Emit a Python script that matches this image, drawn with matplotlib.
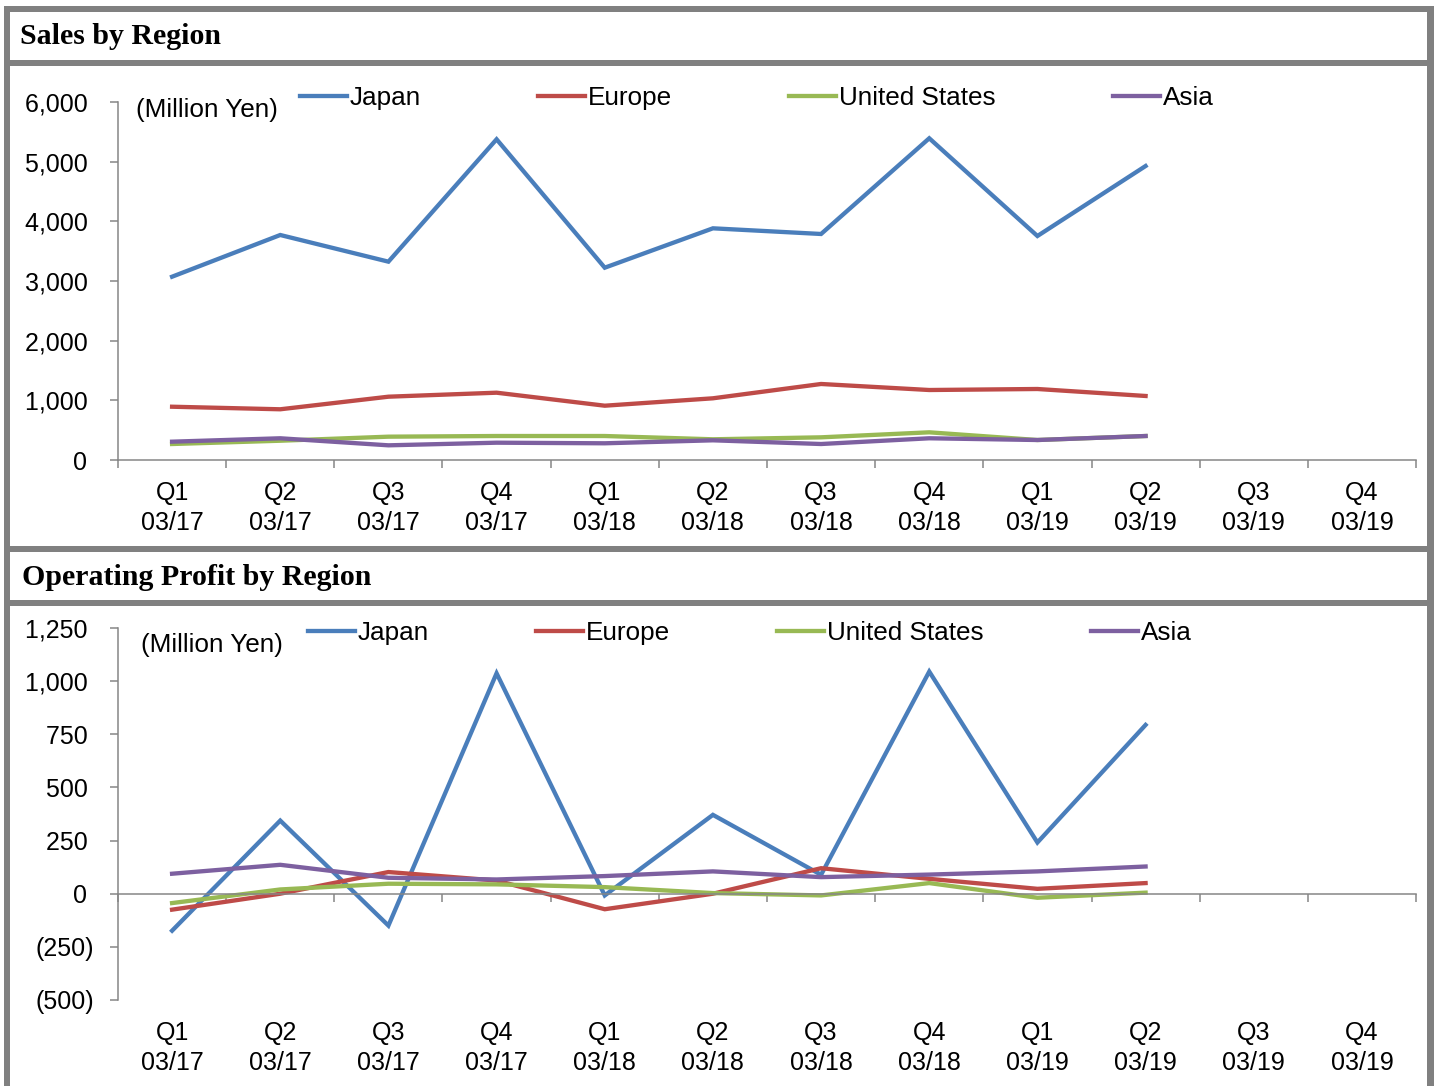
import numpy as np
import matplotlib
matplotlib.use("Agg")
import matplotlib.pyplot as plt
from matplotlib.patches import Rectangle
from matplotlib.ticker import MultipleLocator, FuncFormatter

# quarter labels (fiscal years ending March)
quarters = ["Q1\n03/17", "Q2\n03/17", "Q3\n03/17", "Q4\n03/17",
            "Q1\n03/18", "Q2\n03/18", "Q3\n03/18", "Q4\n03/18",
            "Q1\n03/19", "Q2\n03/19", "Q3\n03/19", "Q4\n03/19"]
regions = ["Japan", "Europe", "United States", "Asia"]
colors = ["#4A7EBB", "#BE4B48", "#98B954", "#7D60A0"]

# sales, million yen (only first 10 quarters reported)
sales_japan = [3072, 3771, 3324, 5375, 3223, 3883, 3788, 5392, 3754, 4927]
sales_europe = [893, 850, 1061, 1128, 910, 1034, 1274, 1173, 1190, 1073]
sales_us = [268, 323, 391, 402, 402, 347, 380, 464, 335, 402]
sales_asia = [307, 364, 246, 290, 280, 330, 268, 364, 335, 402]

# operating profit, million yen
op_japan = [-174, 344, -150, 1037, -8, 371, 89, 1045, 241, 794]
op_europe = [-75, 0, 102, 62, -73, 0, 120, 70, 23, 50]
op_us = [-44, 20, 47, 44, 31, 3, -8, 50, -19, 5]
op_asia = [94, 136, 75, 67, 83, 105, 78, 90, 105, 128]

W, H = 1436, 1086
GRAY = "#808080"
AXGRAY = "#868686"
plt.rcParams["font.family"] = ["Liberation Sans", "DejaVu Sans"]


def fx(x):
    return x / W


def fy(y):
    return 1 - y / H


def yen_fmt(v, pos):
    if v < 0:
        return "({:,.0f})".format(-v)
    return "{:,.0f} ".format(v)


fig = plt.figure(figsize=(W / 100, H / 100), dpi=100)
fig.patch.set_facecolor("white")

# grey frame around the two panels
for x0, y0, x1, y1 in [(4, 6, 1434, 12), (4, 6, 10, H), (1427, 6, 1434, H),
                       (4, 60, 1434, 66), (4, 546, 1434, 552), (4, 600, 1434, 606)]:
    fig.add_artist(Rectangle((fx(x0), fy(y1)), (x1 - x0) / W, (y1 - y0) / H,
                             transform=fig.transFigure, color=GRAY, lw=0))

fig.text(fx(20), fy(44), "Sales by Region", family="Liberation Serif",
         weight="bold", fontsize=21.5, va="baseline")
fig.text(fx(22), fy(585), "Operating Profit by Region", family="Liberation Serif",
         weight="bold", fontsize=21.5, va="baseline")


def make_panel(top, bottom, series, ylim, step, leg_x, leg_y, colspace, unit_xy):
    ax = fig.add_axes([fx(118), fy(bottom), (1416 - 118) / W, (bottom - top) / H])
    x = np.arange(len(series[0]))
    for name, vals, c in zip(regions, series, colors):
        ax.plot(x, vals, color=c, lw=3.1, label=name, solid_joinstyle="miter")
    ax.set_xlim(-0.5, 11.5)
    ax.set_ylim(*ylim)
    ax.yaxis.set_major_locator(MultipleLocator(step))
    ax.yaxis.set_major_formatter(FuncFormatter(yen_fmt))
    for s in ["top", "right"]:
        ax.spines[s].set_visible(False)
    for s in ["left", "bottom"]:
        ax.spines[s].set_color(AXGRAY)
        ax.spines[s].set_linewidth(1.1)
    ax.spines["bottom"].set_position(("data", 0))
    ax.set_xticks(np.arange(-0.5, 12, 1))
    ax.set_xticklabels([])
    ax.tick_params(axis="x", direction="out", length=6, width=1.1, color=AXGRAY)
    ax.tick_params(axis="y", direction="out", length=6, width=1.1, color=AXGRAY,
                   labelsize=18, pad=11)
    sec = ax.secondary_xaxis("bottom")
    sec.set_xticks(np.arange(len(quarters)), quarters)
    sec.tick_params(length=0, pad=15, labelsize=18)
    for lab in sec.get_xticklabels():
        lab.set_linespacing(1.3)
    sec.spines["bottom"].set_visible(False)
    ax.legend(loc="center left", bbox_to_anchor=(fx(leg_x), fy(leg_y)),
              bbox_transform=fig.transFigure, ncol=4, frameon=False,
              handlelength=1.8, handletextpad=0.115, columnspacing=colspace,
              borderpad=0, borderaxespad=0, fontsize=18.8)
    fig.text(fx(unit_xy[0]), fy(unit_xy[1]), "(Million Yen)", fontsize=18.8, va="center")
    return ax


make_panel(102, 460, [sales_japan, sales_europe, sales_us, sales_asia],
           (0, 6000), 1000, 300, 98, 4.48, (136, 110))
make_panel(628, 1000, [op_japan, op_europe, op_us, op_asia],
           (-500, 1250), 250, 308, 633, 4.1, (141, 645))

fig.savefig("out.png", dpi=100, facecolor="white")
